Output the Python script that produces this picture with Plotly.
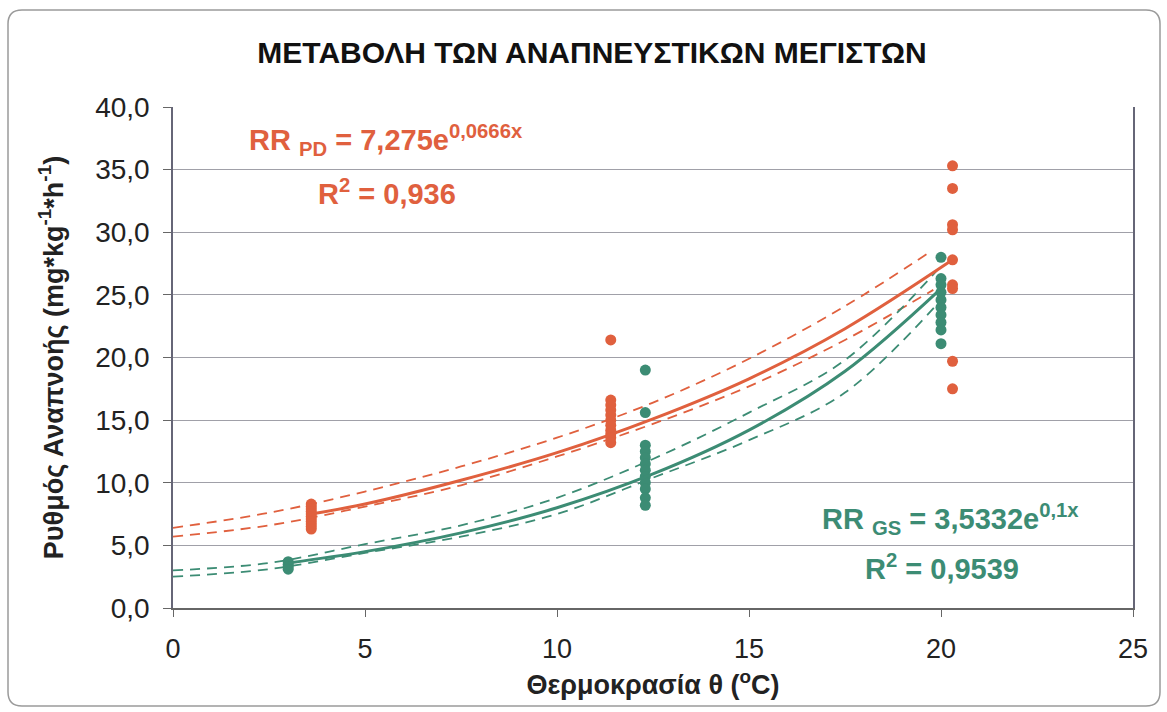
import plotly.graph_objects as go

# ---------------- data ----------------
# Observed points, PD (red)
pd_x_low = [3.6] * 11
pd_y_low = [8.3, 8.1, 7.9, 7.7, 7.5, 7.3, 7.1, 6.9, 6.7, 6.5, 6.3]
pd_x_mid = [11.4] * 11
pd_y_mid = [21.4, 16.6, 16.2, 15.8, 15.4, 15.0, 14.6, 14.2, 13.9, 13.6, 13.2]
pd_x_high = [20.3] * 9
pd_y_high = [35.3, 33.5, 30.6, 30.2, 27.8, 25.8, 25.5, 19.7, 17.5]

# Observed points, GS (green)
gs_x_low = [3.0] * 4
gs_y_low = [3.7, 3.5, 3.3, 3.1]
gs_x_mid = [12.3] * 12
gs_y_mid = [19.0, 15.6, 13.0, 12.5, 12.0, 11.5, 11.0, 10.5, 10.0, 9.5, 8.8, 8.2]
gs_x_high = [20.0] * 10
gs_y_high = [28.0, 26.3, 25.8, 25.2, 24.6, 24.0, 23.4, 22.8, 22.2, 21.1]

# Trend curves
pd_fit_x = [3.6, 5.0, 7.5, 10.0, 12.5, 15.0, 17.5, 20.3]
pd_fit_y = [7.5, 8.3, 10.2, 12.4, 15.1, 18.3, 22.3, 27.8]
pd_up_x = [0.0, 2.5, 5.0, 7.5, 10.0, 12.5, 15.0, 17.5, 19.7]
pd_up_y = [6.4, 7.6, 9.3, 11.3, 13.6, 16.4, 19.9, 24.1, 28.4]
pd_lo_x = [0.0, 2.5, 5.0, 7.5, 10.0, 12.5, 15.0, 17.5, 19.8]
pd_lo_y = [5.7, 6.6, 8.1, 9.8, 12.1, 14.7, 17.7, 21.4, 25.4]

gs_fit_x = [3.0, 5.0, 7.5, 10.0, 12.5, 15.0, 17.5, 20.0]
gs_fit_y = [3.6, 4.5, 6.0, 8.0, 10.7, 14.2, 18.9, 25.5]
gs_up_x = [0.0, 2.5, 5.0, 7.5, 10.0, 12.5, 15.0, 17.5, 20.0]
gs_up_y = [3.0, 3.6, 5.1, 6.6, 8.8, 11.9, 15.6, 19.8, 27.3]
gs_lo_x = [0.0, 2.5, 5.0, 7.5, 10.0, 12.5, 15.0, 17.5, 20.0]
gs_lo_y = [2.5, 3.1, 4.4, 5.7, 7.5, 10.4, 13.4, 17.2, 24.6]

x_ticks = [0, 5, 10, 15, 20, 25]
y_ticks = [0, 5, 10, 15, 20, 25, 30, 35, 40]

RED = "#E0603E"
GREEN = "#3C8C74"
FONT = "Liberation Sans, Arial, sans-serif"

fig = go.Figure()

def add_line(x, y, color, dashed):
    fig.add_trace(go.Scatter(
        x=x, y=y, mode="lines", line_shape="spline",
        line=dict(color=color, width=1.8 if dashed else 3.0,
                  dash="10px,7px" if dashed else "solid"),
        hoverinfo="skip", showlegend=False))

def add_pts(x, y, color):
    fig.add_trace(go.Scatter(
        x=x, y=y, mode="markers",
        marker=dict(color=color, size=11, line=dict(width=0)),
        showlegend=False))

add_line(pd_up_x, pd_up_y, RED, True)
add_line(pd_lo_x, pd_lo_y, RED, True)
add_line(gs_up_x, gs_up_y, GREEN, True)
add_line(gs_lo_x, gs_lo_y, GREEN, True)

add_pts(pd_x_low + pd_x_mid + pd_x_high, pd_y_low + pd_y_mid + pd_y_high, RED)
add_pts(gs_x_low + gs_x_mid + gs_x_high, gs_y_low + gs_y_mid + gs_y_high, GREEN)

add_line(pd_fit_x, pd_fit_y, RED, False)
add_line(gs_fit_x, gs_fit_y, GREEN, False)

ann_font_red = dict(family=FONT, size=29, color=RED)
ann_font_green = dict(family=FONT, size=29, color=GREEN)
annotations = [
    dict(text="<b>RR <sub>PD</sub> = 7,275e<sup>0,0666x</sup></b>", x=386, y=140,
         font=ann_font_red),
    dict(text="<b>R<sup>2</sup> = 0,936</b>", x=387, y=192, font=ann_font_red),
    dict(text="<b>RR <sub>GS</sub> = 3,5332e<sup>0,1x</sup></b>", x=950, y=519,
         font=ann_font_green),
    dict(text="<b>R<sup>2</sup> = 0,9539</b>", x=942, y=567, font=ann_font_green),
]
L, R, T, B = 173, 34, 107, 104
PW, PH = 1167 - L - R, 712 - T - B
ann_list = []
for a in annotations:
    ann_list.append(dict(
        text=a["text"], xref="paper", yref="paper",
        x=(a["x"] - L) / PW, y=(712 - B - a["y"]) / PH,
        xanchor="center", yanchor="middle", showarrow=False, font=a["font"]))

def px(xp):
    return (xp - L) / PW

def py(yp):
    return (712 - B - yp) / PH

# rounded outer frame
r = 14
x0, x1, y0, y1 = 8, 1160, 10, 706
path = (f"M {px(x0 + r)},{py(y0)} L {px(x1 - r)},{py(y0)} "
        f"Q {px(x1)},{py(y0)} {px(x1)},{py(y0 + r)} "
        f"L {px(x1)},{py(y1 - r)} Q {px(x1)},{py(y1)} {px(x1 - r)},{py(y1)} "
        f"L {px(x0 + r)},{py(y1)} Q {px(x0)},{py(y1)} {px(x0)},{py(y1 - r)} "
        f"L {px(x0)},{py(y0 + r)} Q {px(x0)},{py(y0)} {px(x0 + r)},{py(y0)} Z")

fig.update_layout(
    width=1167, height=712,
    margin=dict(l=L, r=R, t=T, b=B),
    paper_bgcolor="white", plot_bgcolor="white",
    separators=",.",
    title=dict(text="<b>ΜΕΤΑΒΟΛΗ ΤΩΝ ΑΝΑΠΝΕΥΣΤΙΚΩΝ ΜΕΓΙΣΤΩΝ</b>",
               x=592 / 1167, xanchor="center", y=1 - 52 / 712, yanchor="middle",
               font=dict(family=FONT, size=30, color="#111111")),
    xaxis=dict(range=[0, 25], tickvals=x_ticks, ticktext=[str(v) for v in x_ticks],
               showgrid=False, zeroline=False, showline=True, linecolor="#666666",
               linewidth=1.5, mirror=False, ticks="outside", ticklen=7,
               tickcolor="#666666", tickfont=dict(family=FONT, size=27, color="#222222"),
               ticklabelstandoff=9,
               title=dict(text="<b>Θερμοκρασία θ (<sup>o</sup>C)</b>", standoff=12,
                          font=dict(family=FONT, size=27, color="#222222"))),
    yaxis=dict(range=[0, 40], tickvals=y_ticks, tickformat=".1f",
               showgrid=True, gridcolor="#A0A0A8", gridwidth=1.2, zeroline=False,
               showline=True, linecolor="#666677", linewidth=1.5, mirror=True,
               ticks="outside", ticklen=8, tickcolor="#666666",
               tickfont=dict(family=FONT, size=28, color="#222222"),
               ticklabelstandoff=8,
               title=dict(text="<b>Ρυθμός Αναπνοής (mg*kg<sup>-1</sup>*h<sup>-1</sup>)</b>",
                          standoff=24, font=dict(family=FONT, size=27, color="#222222"))),
    annotations=ann_list,
    shapes=[dict(type="path", path=path, xref="paper", yref="paper",
                 line=dict(color="#9A9A9A", width=1.5), layer="below")],
)

fig.write_html("out.html")
